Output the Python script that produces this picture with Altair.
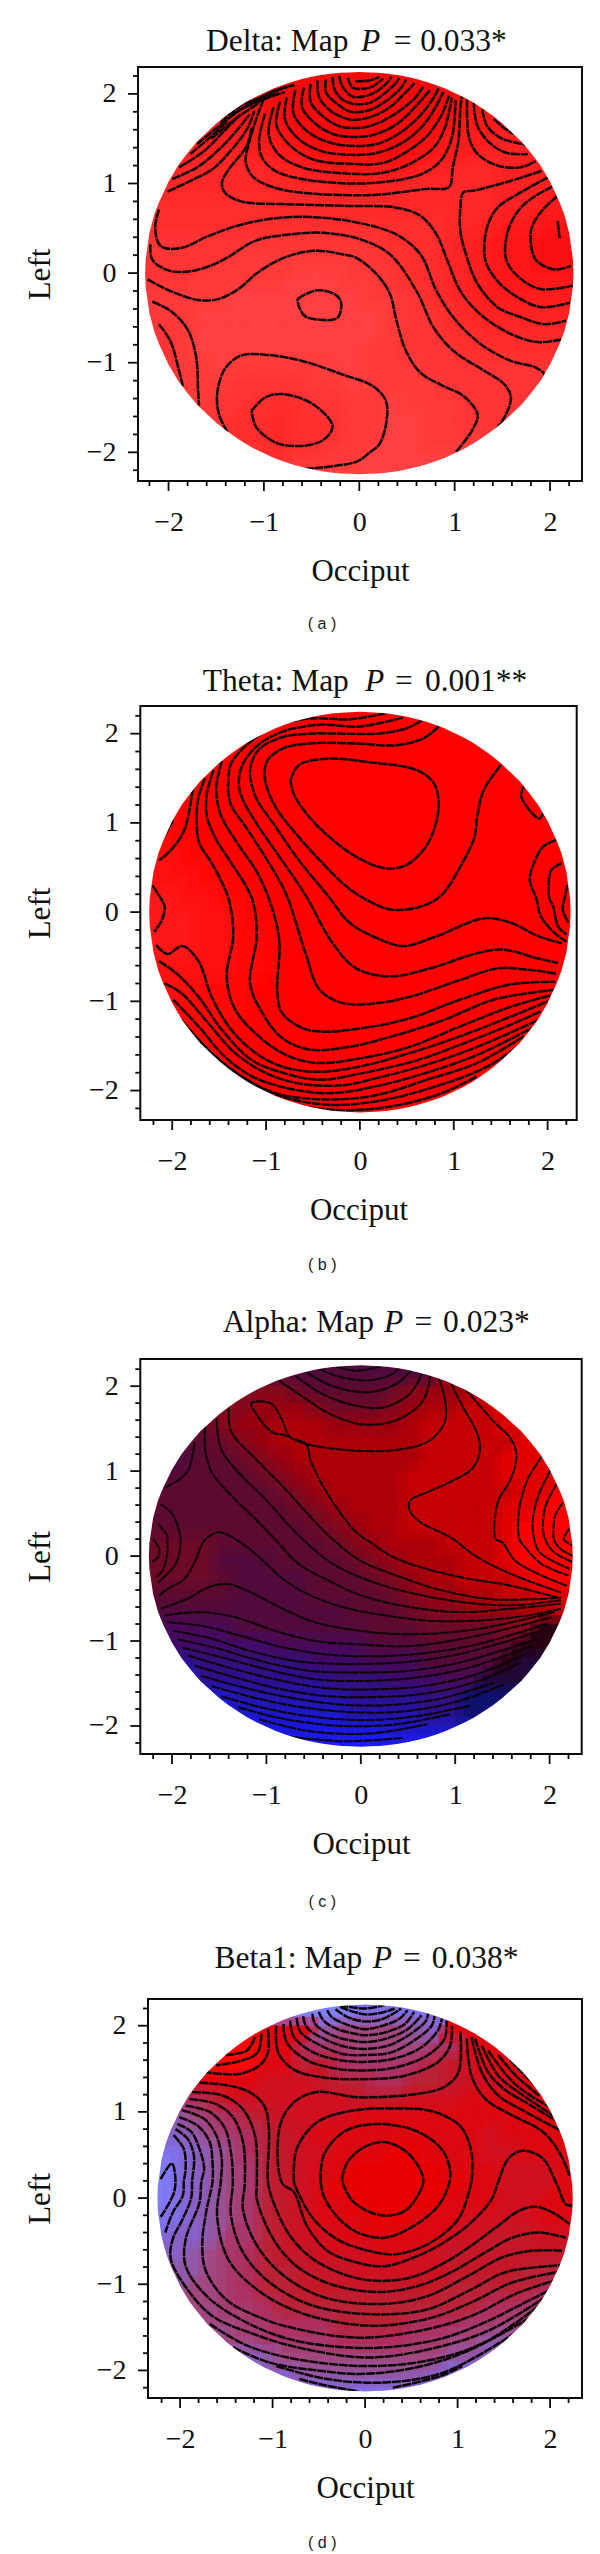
import altair as alt

SERIF = "Liberation Serif"
SANS = "Liberation Sans"
TICKS = [-2.2, -2.0, -1.8, -1.6, -1.4, -1.2, -1.0, -0.8, -0.6, -0.4, -0.2, 0.0,
         0.2, 0.4, 0.6, 0.8, 1.0, 1.2, 1.4, 1.6, 1.8, 2.0, 2.2]
MAJOR = [-2.0, -1.0, 0.0, 1.0, 2.0]
MINOR = [-2.2, -1.8, -1.6, -1.4, -1.2, -0.8, -0.6, -0.4, -0.2, 0.2, 0.4, 0.6, 0.8, 1.2, 1.4, 1.6, 1.8, 2.2]
GRID_X = TICKS
GRID_Y = list(reversed(TICKS))

# half of the disk outline: x and the height of the edge
EDGE_X = [2.245, 2.24, 2.2, 2.15, 2.1, 2.0, 1.9, 1.8, 1.7, 1.6, 1.5, 1.4, 1.3, 1.2, 1.1, 1.0, 0.9, 0.8, 0.7, 0.6, 0.5, 0.4, 0.3, 0.2, 0.1, 0.0]
EDGE_Y = [0.0, 0.15, 0.45, 0.65, 0.79, 1.02, 1.2, 1.34, 1.47, 1.57, 1.67, 1.755, 1.83, 1.9, 1.96, 2.01, 2.06, 2.1, 2.135, 2.165, 2.19, 2.21, 2.225, 2.235, 2.24, 2.245]

# ---------- colour read-offs: one character per grid cell ----------
DELTA_PALETTE = {"0": "#ff4040", "1": "#ff3a3a", "2": "#ff3434", "3": "#ff2e2e", "4": "#ff2828",
                 "5": "#ff2222", "6": "#ff1c1c", "7": "#ff1616", "8": "#f81010", "9": "#ee0c0c"}
DELTA_CELLS = [
    "99999999999999999999999",
    "77777779999999999777777",
    "66666778999999998776666",
    "55556667899999987665555",
    "55555566788889876655555",
    "44444445567777655445555",
    "44444444445555444445555",
    "33333334444444444445566",
    "33333333333333334456677",
    "22222222222223334567788",
    "22222111111122334567788",
    "22211111000112334567777",
    "11111000000011234566666",
    "11100000000001223455555",
    "22100000000001223344444",
    "22100000000011222333333",
    "33110111110011122222222",
    "33111222211011112222222",
    "33112233322110111222222",
    "33112334332110011222222",
    "33112334332110011111111",
    "11111223221100000011111",
    "00000000000000000000000",
]
THETA_PALETTE = {"0": "#ff0000", "1": "#ff0808", "2": "#ff1010", "3": "#ff1818"}
THETA_CELLS = [
    "00000000000000000000000",
    "00000000000000000000000",
    "00000000000000000000000",
    "00000000000000000000000",
    "00000000000000000000000",
    "00000000000000000000000",
    "11000000000000000000000",
    "11100000000000000000000",
    "22110000000000000000000",
    "22211000000000000000000",
    "33221100000000000000000",
    "33322100000000000000000",
    "33322110000000000000000",
    "33322110000000000000000",
    "22222110000000000000000",
    "22211100000000000000000",
    "11111100000000000000000",
    "11111000000000000000000",
    "11110000000000000000000",
    "11100000000000000000000",
    "11000000000000000000000",
    "00000000000000000000000",
    "00000000000000000000000",
]
ALPHA_PALETTE = {"a": "#ff0000", "b": "#e00000", "c": "#c40004", "d": "#ac0008", "e": "#980010",
                 "f": "#820a1c", "g": "#6c0a28", "h": "#5c0a30", "i": "#520a3c", "j": "#480a58",
                 "k": "#400a68", "l": "#34107c", "m": "#2c1090", "n": "#2414a8", "o": "#1c18c8",
                 "p": "#1818e0", "q": "#1c1cff", "r": "#280014", "s": "#200838", "t": "#101070"}
ALPHA_CELLS = [
    "iiiiiiiiiiiiiiiiiiiiiii",
    "ffffffffghhhhgfeedddddd",
    "ffffffeeefgggfeddccbbbb",
    "ggggfeedddeeeedccccbbbb",
    "hhhhgfeddddddddcccccbbb",
    "iiihhgfedddddddccccbbbb",
    "iihhhhgfedddddcccccbbba",
    "hhhhhhhgfeddddccccccbba",
    "hhhhhhhhgfedddcccccbbaa",
    "hhhhhhhhhgfeddcccccbaaa",
    "gggghhhhhhgfedddcccbaaa",
    "ggggiiihhhhgfedddccbaaa",
    "gggghiiiihhhgfeddcccbaa",
    "hhhhhiiiihhhhgfeeddccbb",
    "iiiiiiiiiiihhhgffeeeddc",
    "jjjjjiiiiiiihhhggggffrr",
    "kkkkkkkjjjjjiiihhhhhrrs",
    "mmmllllllkkkjjjiiiirsss",
    "ooommmmmmmlllkkkjjsssss",
    "ooooonnnnnnmmmmlltttttt",
    "pppppoooooonnnnmmtttttt",
    "qqqqqqpppppppoooooooooo",
    "qqqqqqqqqqqqqqqqqqqqqqq",
]
BETA_PALETTE = {"a": "#e80000", "b": "#dc0810", "c": "#d01020", "d": "#c41828", "e": "#ba2236",
                "f": "#b02c5c", "g": "#a8386c", "h": "#a24880", "i": "#9258a8", "j": "#8860c8",
                "k": "#8070e8", "l": "#8080ff", "m": "#ff0808", "n": "#e00810"}
BETA_CELLS = [
    "lllllllllllkkkkkkkkkkkk",
    "mmmmmmnnnihhhhijnnnnmmm",
    "mmmmmmnnfgghhhhgfnnnnmm",
    "nnnmmmnnedfgggfedcnnnmm",
    "ffnnnncccdeeffeedcccnnm",
    "ggfecccccccdddcccbbbbnn",
    "iihgfedccccbbbbbbbbbbbn",
    "jjihgfedcbbbbbbbbbcbbbn",
    "kkjihfedccbbbaabbbccbbb",
    "lkjihgedcbbaaaaabbbcccb",
    "lkjihgedcbaaaaaaabbcccb",
    "lkjihgedcbbaaaaabbbccbb",
    "kkjihgedcbbbaabbbccccbb",
    "kjjiggedccbbbbbbccdddcc",
    "jjihgfeddcccbbccddddddd",
    "iiihgfeedddcccccddddeee",
    "iihhgfeeddddddddeeeeeff",
    "hhhhggfeeeeeeeeeeeffggg",
    "hhhhhggfffeeeefffgghhii",
    "iiiihhggggffffgghhiijjj",
    "jjjjjjihhhhhhhhhiijkkkk",
    "kkkkkkjjiiiiiiijkkkkkkk",
    "lllllllkkkkkkkkkkllllll",
]

# ---------- contour lines: (xs, ys) ----------
DELTA_CONTOURS = [
    ([-1.0,-1.08,-1.15,-1.19,-1.11,-.88,-.53,-.11,.25,.71,.94,.98,1.04,1.06,1.08],[1.95,1.72,1.48,1.24,1.07,.95,.89,.87,.88,.94,.96,1.18,1.48,1.85,2.0]),
    ([-.99,-1.05,-1.02,-.88,-.60,-.11,.28,.64,.85,.97,1.01],[1.78,1.48,1.29,1.14,1.05,1.0,1.02,1.10,1.25,1.51,1.93]),
    ([-.90,-.95,-.85,-.60,-.11,.25,.53,.78,.90,.97],[1.85,1.55,1.33,1.18,1.11,1.12,1.22,1.40,1.63,1.96]),
    ([-.83,-.87,-.74,-.49,-.11,.25,.49,.71,.87,.94],[1.91,1.66,1.44,1.27,1.22,1.23,1.35,1.53,1.78,1.98]),
    ([-.76,-.78,-.64,-.39,-.11,.18,.46,.67,.81,.88],[1.96,1.72,1.50,1.36,1.32,1.34,1.46,1.65,1.87,2.02]),
    ([-.67,-.69,-.53,-.32,-.09,.18,.42,.64,.78,.83],[2.04,1.78,1.57,1.46,1.42,1.44,1.56,1.76,1.96,2.06]),
    ([-.58,-.60,-.44,-.27,-.09,.14,.39,.60,.74],[2.07,1.85,1.65,1.55,1.52,1.54,1.66,1.87,2.04]),
    ([-.51,-.51,-.37,-.21,-.09,.11,.35,.57,.67],[2.11,1.91,1.74,1.64,1.62,1.64,1.76,1.94,2.08]),
    ([-.44,-.42,-.30,-.18,-.09,.11,.32,.49,.58],[2.15,1.96,1.81,1.74,1.71,1.74,1.85,2.02,2.12]),
    ([-.35,-.35,-.21,-.09,.11,.28,.44,.49],[2.16,2.02,1.87,1.80,1.82,1.92,2.07,2.16]),
    ([-.28,-.26,-.18,-.07,.11,.26,.39,.42],[2.19,2.05,1.94,1.89,1.90,2.0,2.13,2.18]),
    ([-.21,-.18,-.07,.11,.25,.34],[2.2,2.09,1.97,1.99,2.08,2.19]),
    ([-.12,-.07,.11,.25],[2.18,2.07,2.07,2.17]),
    ([-.04,.11,.21],[2.14,2.15,2.19]),
    ([-2.01,-1.77,-1.54,-1.36,-1.17,-1.10],[.91,1.03,1.16,1.35,1.62,1.81]),
    ([-1.96,-1.70,-1.45,-1.27,-1.15],[1.05,1.18,1.40,1.61,1.77]),
    ([-1.89,-1.63,-1.43,-1.25],[1.18,1.36,1.57,1.77]),
    ([-1.77,-1.55,-1.38],[1.33,1.53,1.70]),
    ([-1.70,-1.45,-1.24],[1.44,1.66,1.83]),
    ([-1.45,-1.24,-1.02],[1.68,1.87,1.96]),
    ([-1.33,-1.10,-.85],[1.77,1.91,2.01]),
    ([-1.20,-.95,-.78],[1.85,1.96,2.02]),
    ([-1.55,-1.3,-1.05],[1.5,1.72,1.9]),
    ([-1.25,-1.0,-.75],[1.82,1.98,2.08]),
    ([-1.12,-.9,-.68],[1.9,2.03,2.1]),
    ([-1.13,-1.18,-1.38,-1.44,-1.41,-1.24,-.81,-.11,.39,.64,.81,.92,1.06,1.27,1.59,1.87,2.12],[1.62,1.42,1.14,1.01,.90,.80,.77,.75,.73,.64,.43,.15,-.20,-.46,-.68,-.77,-.74]),
    ([-2.10,-2.14,-2.08,-1.87,-1.59,-1.24,-.81,-.42,0,.39,.64,.81,.99,1.27,1.59,1.84,1.94,1.91],[.71,.51,.30,.28,.41,.54,.62,.62,.56,.43,.21,-.20,-.50,-.79,-.98,-1.05,-1.13,-1.20]),
    ([-2.19,-2.17,-2.0,-1.77,-1.52,-1.38,-1.09,-.74,-.39,0,.32,.60,.78,.99,1.31,1.52,1.59,1.50,1.38],[.32,.15,.03,.02,.10,.175,.36,.43,.45,.38,.21,-.20,-.61,-.87,-1.09,-1.24,-1.39,-1.65,-1.80]),
    ([-2.22,-1.98,-1.69,-1.48,-1.27,-1.06,-.78,-.46,-.18,-.04,.18,.32,.39,.49,.64,.88,1.09,1.24,1.18,1.01],[-.07,-.20,-.30,-.29,-.18,.01,.175,.25,.21,.175,-.01,-.23,-.53,-.87,-1.11,-1.26,-1.37,-1.58,-1.76,-2.0]),
    ([1.91,1.59,1.20,1.09,1.06,1.06,1.13,1.24,1.45,1.69,1.94,2.17],[1.14,1.03,.92,.90,.73,.47,.17,-.12,-.38,-.49,-.57,-.53]),
    ([1.98,1.66,1.45,1.34,1.32,1.45,1.66,1.91,2.21],[1.07,.88,.73,.51,.15,-.09,-.27,-.38,-.33]),
    ([2.03,1.73,1.57,1.54,1.70,1.91,2.24],[.97,.77,.51,.15,-.07,-.18,-.14]),
    ([2.08,1.91,1.80,1.85,2.05,2.22],[.86,.69,.47,.15,.04,.08]),
    ([2.08,2.10],[.58,.39]),
    ([1.13,1.15,1.24,1.45,1.69,1.85],[1.94,1.51,1.33,1.20,1.18,1.25]),
    ([1.20,1.24,1.38,1.55,1.77],[1.90,1.64,1.44,1.34,1.33]),
    ([1.29,1.34,1.48,1.62,1.75],[1.83,1.64,1.51,1.46,1.43]),
    ([1.41,1.52,1.62],[1.72,1.62,1.55]),
    ([-2.17,-1.98,-1.80,-1.71,-1.69,-1.68],[-.32,-.42,-.63,-.94,-1.31,-1.48]),
    ([-2.10,-1.98,-1.89,-1.85],[-.57,-.76,-1.09,-1.26]),
    ([-.65,-.53,-.42,-.25,-.19,-.23,-.42,-.57,-.63,-.65],[-.29,-.22,-.19,-.24,-.33,-.50,-.52,-.48,-.38,-.29]),
    ([-1.38,-1.47,-1.49,-1.41,-1.24,-.99,-.60,-.18,.14,.28,.28,.21,.11,-.02,-.40,-.63],[-1.78,-1.58,-1.35,-1.07,-.92,-.91,-.98,-1.13,-1.26,-1.43,-1.69,-1.91,-2.0,-2.10,-2.17,-2.19]),
    ([-1.13,-.99,-.81,-.49,-.28,-.39,-.64,-.88,-1.08,-1.13],[-1.54,-1.39,-1.35,-1.46,-1.71,-1.87,-1.93,-1.89,-1.72,-1.54]),
]
THETA_CONTOURS = [
    ([-.74,-.65,-.33,.10,.61,.79,.84,.80,.70,.50,.28,.03,-.22,-.51,-.70,-.74],[1.48,1.65,1.72,1.68,1.59,1.44,1.22,.96,.73,.53,.49,.58,.75,1.03,1.31,1.48]),
    ([.84,.68,.39,-.04,-.54,-.83,-.99,-1.01,-.90,-.65,-.40,-.18,0,.32,.64,.86,1.07,1.22,1.25,1.32,1.52],[2.08,1.95,1.87,1.89,1.89,1.83,1.69,1.48,1.18,.84,.55,.32,.18,.03,.06,.18,.51,.84,1.07,1.37,1.67]),
    ([.66,.50,.18,-.18,-.54,-.83,-1.08,-1.17,-1.11,-.90,-.65,-.33,-.11,.18,.46,.82,1.32,1.61,1.90,2.15],[2.15,2.06,2.0,2.0,2.0,1.96,1.82,1.59,1.29,.96,.58,.17,-.12,-.29,-.38,-.27,-.07,-.12,-.27,-.35]),
    ([.46,0,-.43,-.83,-1.11,-1.26,-1.29,-1.26,-1.10,-.83,-.58,-.29,-.04,.32,.75,1.25,1.52,1.90,2.11],[2.18,2.08,2.10,2.02,1.85,1.63,1.44,1.29,.99,.58,.19,-.35,-.63,-.72,-.63,-.46,-.42,-.52,-.57]),
    ([.28,-.11,-.54,-.90,-1.19,-1.37,-1.40,-1.38,-1.22,-1.01,-.79,-.58,-.43,-.18,.18,.53,1.07,1.47,1.82,2.09],[2.23,2.16,2.17,2.08,1.89,1.67,1.52,1.22,.96,.62,.21,-.46,-.87,-1.02,-1.02,-.95,-.76,-.63,-.65,-.69]),
    ([-1.47,-1.53,-1.49,-1.33,-1.11,-.97,-.86,-.88,-.83,-.61,-.40,.03,.53,1.07,1.61,2.08],[1.69,1.41,1.11,.81,.47,.15,-.31,-.91,-1.13,-1.30,-1.34,-1.30,-1.19,-.98,-.81,-.78]),
    ([-1.56,-1.63,-1.63,-1.53,-1.37,-1.15,-1.10,-1.17,-1.04,-.83,-.54,-.11,.35,.89,1.43,2.08],[1.59,1.33,1.07,.81,.55,.15,-.27,-.80,-1.13,-1.41,-1.54,-1.51,-1.39,-1.21,-.98,-.87]),
    ([-1.65,-1.72,-1.74,-1.71,-1.58,-1.40,-1.35,-1.42,-1.33,-1.08,-.79,-.47,0,.53,1.07,1.61,2.04],[1.50,1.29,.99,.77,.55,.15,-.27,-.72,-1.09,-1.39,-1.60,-1.69,-1.64,-1.51,-1.28,-1.06,-.93]),
    ([-1.78,-1.87,-2.01,-2.14],[1.39,.92,.70,.58]),
    ([-2.08,-1.99],[.86,1.03]),
    ([-2.21,-2.12,-2.08,-2.11,-2.19],[.30,.15,.06,-.09,-.22]),
    ([-2.17,-2.05,-1.89,-1.72,-1.58,-1.37,-1.11,-.83,-.47,0,.53,1.07,1.61,2.0],[-.37,-.47,-.38,-.55,-.95,-1.32,-1.58,-1.73,-1.79,-1.73,-1.58,-1.39,-1.17,-1.0]),
    ([-2.14,-1.94,-1.72,-1.47,-1.15,-.79,-.43,0,.61,1.11,1.61,1.93],[-.55,-.70,-.95,-1.32,-1.66,-1.81,-1.88,-1.81,-1.66,-1.47,-1.26,-1.11]),
    ([-2.08,-1.90,-1.62,-1.33,-1.01,-.65,-.18,.18,.71,1.25,1.90],[-.80,-.91,-1.24,-1.58,-1.80,-1.92,-1.94,-1.86,-1.71,-1.51,-1.21]),
    ([-1.99,-1.72,-1.44,-1.15,-.79,-.33,.18,.71,1.25,1.83],[-.98,-1.28,-1.62,-1.84,-1.97,-2.03,-1.95,-1.80,-1.60,-1.30]),
    ([-1.90,-1.58,-1.26,-.90,-.36,.18,.71,1.25,1.75],[-1.21,-1.58,-1.84,-2.03,-2.10,-2.05,-1.88,-1.69,-1.39]),
    ([-1.83,-1.51,-1.15,-.79,-.33,.18,.82,1.36,1.68],[-1.32,-1.65,-1.92,-2.08,-2.16,-2.12,-1.95,-1.73,-1.51]),
    ([-1.72,-1.40,-.97,-.47,.18,.82,1.25],[-1.47,-1.77,-2.05,-2.2,-2.2,-2.05,-1.84]),
    ([2.09,1.95,1.84,1.81,1.88,1.93,2.08,2.2],[.81,.73,.51,.36,.15,-.05,-.24,-.33]),
    ([2.15,2.04,2.01,2.02,2.06,2.11,2.2],[.55,.47,.25,.15,.06,-.16,-.25]),
    ([2.21,2.18,2.16,2.22],[.30,.15,.03,-.12]),
    ([1.75,1.72,1.91,1.95],[1.42,1.29,1.05,1.11]),
]
ALPHA_CONTOURS = [
    ([-.26,-.05,.24],[2.23,2.18,2.24]),
    ([-.44,-.19,.09,.31,.41],[2.20,2.10,2.07,2.13,2.21]),
    ([-.57,-.30,.09,.38,.54],[2.16,2.0,1.93,2.03,2.19]),
    ([-.69,-.41,-.05,.24,.52,.65],[2.12,1.91,1.77,1.75,1.91,2.15]),
    ([-.87,-.58,-.34,.02,.38,.66,.74],[2.07,1.85,1.68,1.55,1.60,1.83,2.15]),
    ([.82,.89,.89,.73,.45,-.05,-.58,-.80,-.94,-1.10,-1.16,-.96,-.85,-.75,-.58,-.53,-.34,-.05,.09,.34,.63,1.06,1.59,2.09],[2.11,1.85,1.58,1.36,1.26,1.24,1.32,1.42,1.46,1.66,1.80,1.80,1.64,1.40,1.32,1.12,.71,.28,.17,-.01,-.13,-.25,-.35,-.49]),
    ([.95,1.06,1.24,1.26,1.18,.98,.70,.52,.52,.63,.95,1.23,1.59,2.12],[2.05,1.80,1.42,1.22,1.03,.89,.75,.65,.53,.40,.22,-.01,-.21,-.43]),
    ([1.09,1.41,1.59,1.65,1.59,1.45,1.43,1.50,1.63,1.88,2.18],[1.99,1.58,1.38,1.19,.91,.63,.20,.16,-.05,-.21,-.35]),
    ([1.93,1.77,1.68,1.68,1.75,1.91,2.2],[1.19,.91,.56,.20,.09,-.09,-.23]),
    ([2.02,1.88,1.82,1.84,1.89,2.02,2.21],[1.03,.71,.40,.18,.05,-.05,-.15]),
    ([2.09,1.96,1.93,1.96,2.04,2.24],[.87,.60,.32,.18,.05,-.07]),
    ([2.14,2.06,2.04,2.05,2.12,2.25],[.63,.48,.24,.18,.08,0.0]),
    ([2.21,2.15,2.25],[.32,.20,.12]),
    ([-1.76,-1.82,-1.91,-2.07],[1.34,1.03,.91,.81]),
    ([-1.65,-1.65,-1.58,-1.37,-1.12,-.91,-.66,-.34,.02,.52,1.06,1.59,2.12],[1.52,1.26,.99,.71,.44,.20,-.09,-.29,-.47,-.60,-.66,-.62,-.56]),
    ([-1.53,-1.48,-1.30,-1.01,-.76,-.58,-.30,.09,.52,1.06,1.59,2.12],[1.62,1.26,.99,.67,.36,.16,-.09,-.29,-.43,-.54,-.58,-.52]),
    ([-1.40,-1.37,-1.12,-.80,-.55,-.30,-.01,.38,.88,1.41,2.12],[1.74,1.46,1.15,.79,.48,.20,-.05,-.23,-.41,-.51,-.49]),
    ([-2.12,-2.0,-1.93,-1.91,-1.96,-2.15],[.61,.50,.32,.18,-.09,-.31]),
    ([-2.15,-2.05,-2.05,-2.05,-2.10,-2.17],[.38,.24,.18,.03,-.17,-.25]),
    ([-2.2,-2.14,-2.14,-2.21],[.20,.10,0.0,-.07]),
    ([-2.14,-2.05,-1.87,-1.75,-1.66,-1.51,-1.30,-1.08,-.80,-.48,-.12,.27,.70,1.23,1.77,2.12],[-.47,-.39,-.27,-.05,.18,.28,.18,-.01,-.29,-.49,-.62,-.70,-.76,-.76,-.70,-.62]),
    ([-2.12,-1.83,-1.62,-1.41,-1.16,-.83,-.48,-.01,.52,1.23,2.05],[-.62,-.50,-.37,-.33,-.43,-.62,-.78,-.88,-.92,-.86,-.66]),
    ([-2.08,-1.72,-1.33,-.91,-.48,-.01,.52,1.23,2.02],[-.70,-.66,-.72,-.88,-1.0,-1.04,-1.06,-.94,-.72]),
    ([-2.05,-1.69,-1.27,-.80,-.34,.16,.70,1.23,1.97],[-.78,-.82,-.94,-1.08,-1.16,-1.18,-1.14,-1.04,-.80]),
    ([-1.99,-1.62,-1.16,-.66,-.12,.45,1.06,1.91],[-.88,-.96,-1.12,-1.24,-1.27,-1.25,-1.15,-.88]),
    ([-1.94,-1.54,-1.08,-.55,-.01,.52,1.06,1.86],[-.98,-1.08,-1.23,-1.35,-1.37,-1.35,-1.25,-.98]),
    ([-1.89,-1.48,-1.01,-.48,.02,.59,1.16,1.80],[-1.08,-1.19,-1.33,-1.45,-1.47,-1.43,-1.31,-1.06]),
    ([-1.83,-1.41,-.91,-.41,.09,.66,1.23,1.73],[-1.17,-1.31,-1.45,-1.55,-1.57,-1.53,-1.39,-1.16]),
    ([-1.76,-1.33,-.83,-.34,.16,.73,1.30,1.66],[-1.29,-1.43,-1.57,-1.65,-1.66,-1.61,-1.45,-1.27]),
    ([-1.69,-1.23,-.73,-.19,.34,.88,1.41],[-1.41,-1.55,-1.67,-1.75,-1.75,-1.67,-1.49]),
    ([-1.58,-1.12,-.62,-.05,.52,1.06,1.52],[-1.53,-1.67,-1.78,-1.84,-1.82,-1.70,-1.51]),
    ([-1.48,-.98,-.44,.09,.62,1.16],[-1.65,-1.80,-1.90,-1.93,-1.88,-1.76]),
    ([-1.30,-.80,-.19,.38,.95],[-1.78,-1.92,-2.0,-1.98,-1.86]),
    ([-1.08,-.55,.09,.70],[-1.92,-2.06,-2.09,-1.98]),
    ([-.80,-.19,.45],[-2.12,-2.18,-2.14]),
]
BETA_CONTOURS = [
    ([-.25,-.19,-.01,.21,.43,.57,.63,.59,.43,.17,-.12,-.23,-.25],[.22,.42,.59,.65,.55,.38,.20,.07,-.15,-.20,-.05,.14,.22]),
    ([-.48,-.45,-.23,.13,.57,.84,.92,.90,.79,.53,.21,-.08,-.30,-.45,-.48],[.19,.49,.77,.86,.77,.55,.30,.14,-.09,-.32,-.46,-.40,-.22,.03,.19]),
    ([-.77,-.74,-.52,-.16,.28,.75,1.04,1.15,1.15,1.13,1.01,.72,.35,.03,-.30,-.56,-.74,-.77],[.19,.57,.88,1.01,1.04,1.0,.82,.53,.19,.10,-.24,-.51,-.65,-.61,-.48,-.24,.10,.19]),
    ([2.25,2.17,2.08,1.92,1.70,1.55,1.44,1.37,1.15,.86,.57,.21,-.08,-.41,-.63,-.77,-.90,-.92,-.77,-.52,-.08,.57,.86,1.01,1.03],[-.09,-.07,.14,.46,.55,.46,.19,-.01,-.28,-.51,-.67,-.79,-.75,-.61,-.32,.07,.18,.84,1.11,1.23,1.17,1.21,1.29,1.46,1.93]),
    ([-.96,-.94,-.77,-.45,-.01,.43,.79,.92,.94],[2.0,1.69,1.49,1.40,1.38,1.42,1.58,1.77,2.0]),
    ([-.88,-.85,-.63,-.30,-.01,.35,.68,.86,.88],[2.02,1.81,1.60,1.50,1.48,1.52,1.66,1.85,2.06]),
    ([-.81,-.77,-.56,-.27,-.01,.32,.61,.79,.83],[2.06,1.87,1.69,1.60,1.58,1.62,1.75,1.95,2.08]),
    ([-.74,-.70,-.48,-.23,-.01,.28,.53,.72,.75],[2.09,1.93,1.77,1.67,1.66,1.69,1.83,2.0,2.11]),
    ([-.67,-.63,-.41,-.19,-.01,.25,.50,.66,.68],[2.11,1.98,1.83,1.75,1.73,1.77,1.91,2.06,2.14]),
    ([-.57,-.54,-.36,-.16,-.01,.23,.46,.61],[2.14,2.02,1.89,1.83,1.81,1.85,1.96,2.12]),
    ([-.50,-.45,-.30,-.12,-.01,.21,.43,.53],[2.16,2.06,1.96,1.91,1.89,1.92,2.02,2.16]),
    ([-.41,-.36,-.19,-.01,.19,.37,.46],[2.18,2.10,2.01,1.96,2.0,2.08,2.18]),
    ([-.32,-.19,-.01,.17,.32,.39],[2.19,2.10,2.05,2.07,2.15,2.20]),
    ([-.27,-.12,.03,.21,.32],[2.22,2.16,2.13,2.16,2.2]),
    ([-.28,-.01,.21],[2.24,2.2,2.24]),
    ([-1.05,-1.05,-1.14,-1.36,-1.72],[1.96,1.69,1.54,1.44,1.46]),
    ([-1.12,-1.16,-1.32,-1.61],[1.91,1.69,1.60,1.54]),
    ([-1.19,-1.28,-1.52],[1.87,1.71,1.66]),
    ([-1.79,-1.50,-1.25,-1.09,-1.04,-1.05,-.99,-.81,-.56,-.19,.13,.50,.86,1.15,1.44,1.66,1.84,2.03,2.21],[1.34,1.31,1.23,1.07,.80,.19,-.05,-.44,-.71,-.90,-.96,-.92,-.75,-.55,-.32,-.15,-.10,-.17,-.30]),
    ([-1.87,-1.54,-1.32,-1.19,-1.17,-1.17,-.99,-.74,-.37,.13,.57,.93,1.30,1.59,1.88,2.17],[1.23,1.19,1.03,.72,.19,-.01,-.48,-.79,-1.0,-1.09,-1.02,-.86,-.63,-.46,-.40,-.46]),
    ([-1.90,-1.61,-1.43,-1.32,-1.30,-1.32,-1.17,-.88,-.45,.13,.64,1.12,1.48,1.81,2.13],[1.15,1.09,.94,.65,.19,-.13,-.55,-.90,-1.15,-1.23,-1.15,-.90,-.69,-.61,-.61]),
    ([-1.94,-1.68,-1.52,-1.45,-1.43,-1.45,-1.32,-1.03,-.56,.13,.68,1.15,1.52,2.12],[1.07,1.0,.82,.53,.19,-.20,-.63,-.98,-1.25,-1.35,-1.29,-1.06,-.86,-.78]),
    ([-1.98,-1.74,-1.61,-1.55,-1.56,-1.60,-1.48,-1.17,-.70,.03,.68,1.15,1.59,2.08],[1.02,.92,.73,.46,.19,-.20,-.71,-1.06,-1.33,-1.48,-1.40,-1.21,-.98,-.86]),
    ([-2.01,-1.81,-1.68,-1.65,-1.65,-1.72,-1.76,-1.72,-1.50,-1.15,-.81,-.08,.68,1.19,1.63,2.04],[.94,.84,.65,.42,.19,-.17,-.55,-.85,-1.18,-1.38,-1.50,-1.62,-1.52,-1.35,-1.11,-.96]),
    ([-2.03,-1.88,-1.79,-1.74,-1.77,-1.79,-1.94,-1.94,-1.72,-1.36,-.81,.03,.79,1.30,1.66,2.01],[.86,.77,.57,.34,.19,-.05,-.48,-.79,-1.13,-1.40,-1.64,-1.74,-1.64,-1.44,-1.25,-1.06]),
    ([-2.05,-1.92,-1.85,-1.87,-1.88,-1.97,-2.08,-2.10,-1.92,-1.65,-1.25,-.74,.06,.86,1.37,1.95],[.80,.69,.49,.19,0.0,-.24,-.48,-.71,-1.06,-1.37,-1.56,-1.73,-1.85,-1.71,-1.52,-1.15]),
    ([-2.07,-1.96,-1.94,-1.96,-1.97,-2.08,-2.16],[.73,.57,.34,.19,.03,-.17,-.40]),
    ([-2.21,-2.09,-2.05,-2.07,-2.21],[.22,.40,.22,.05,-.22]),
    ([-1.68,-1.28,-.74,.06,.75,1.30,1.88],[-1.46,-1.71,-1.87,-1.95,-1.87,-1.67,-1.25]),
    ([-1.43,-1.03,-.52,-.01,.57,1.12,1.81],[-1.73,-1.91,-2.0,-2.04,-1.96,-1.77,-1.37]),
    ([-.96,-.41,.21,.86,1.66],[-1.95,-2.10,-2.14,-2.02,-1.54]),
    ([-.71,-.4,-.08],[-2.10,-2.18,-2.24]),
    ([.3,.8,1.05],[-2.2,-2.07,-1.95]),
    ([1.10,1.15,1.30,1.59,1.92,2.10,2.21],[1.85,1.42,1.15,.96,.77,.53,.26]),
    ([1.15,1.26,1.44,1.70,2.12],[1.87,1.46,1.19,1.02,.78]),
    ([1.19,1.33,1.52,1.77,2.12],[1.85,1.46,1.25,1.09,.86]),
    ([1.26,1.44,1.63,2.06],[1.77,1.42,1.25,.94]),
    ([1.33,1.55,1.73,1.99],[1.71,1.40,1.23,1.06]),
    ([1.44,1.63,1.88],[1.66,1.42,1.19]),
    ([1.57,1.77,1.92],[1.60,1.38,1.23]),
]

# title pieces
TITLE_DELTA = ["Delta: Map", "P", "=", "0.033*"]
TITLE_THETA = ["Theta: Map", "P", "=", "0.001**"]
TITLE_ALPHA = ["Alpha: Map", "P", "=", "0.023*"]
TITLE_BETA = ["Beta1: Map", "P", "=", "0.038*"]

GROUP_W = 445
PANELS = [
    dict(title=TITLE_DELTA, off=0, px=[67.9, 222.9, 255.7, 282.2], title_y=-25.5, cap="( a )", cap_x=184, cap_y=556.5,
         width=444, height=414, xd=[-2.32, 2.335], yd=[-2.32, 2.30], pad=30, cells=DELTA_CELLS, pal=DELTA_PALETTE,
         lines=DELTA_CONTOURS, lw=2.5),
    dict(title=TITLE_THETA, off=2.3, px=[62.5, 224.7, 254.6, 284.6], title_y=-24.5, cap="( b )", cap_x=182, cap_y=559.3,
         width=436.4, height=414, xd=[-2.34, 2.31], yd=[-2.33, 2.31], pad=32.3, cells=THETA_CELLS, pal=THETA_PALETTE,
         lines=THETA_CONTOURS, lw=2.5),
    dict(title=TITLE_ALPHA, off=2.3, px=[82.4, 243.7, 274.2, 302.8], title_y=-36, cap="( c )", cap_x=182, cap_y=542.9,
         width=441.4, height=395, xd=[-2.336, 2.34], yd=[-2.33, 2.32], pad=32.3, cells=ALPHA_CELLS, pal=ALPHA_PALETTE,
         lines=ALPHA_CONTOURS, lw=2.0),
    dict(title=TITLE_BETA, off=10, px=[66.4, 224.8, 255, 283.8], title_y=-39.6, cap="( d )", cap_x=174.3, cap_y=544.1,
         width=434, height=399, xd=[-2.347, 2.345], yd=[-2.32, 2.31], pad=40, cells=BETA_CELLS, pal=BETA_PALETTE,
         lines=BETA_CONTOURS, lw=2.5),
]


def axis(title, orient_pad, label_pad, offset=0):
    return alt.Axis(
        title=title, values=TICKS, format=".0f", domain=False, grid=False, offset=offset,
        labelExpr="abs(datum.value-round(datum.value))<0.01 ? datum.label : ''",
        labelFont=SERIF, labelFontSize=28, labelColor="#111", labelPadding=label_pad, labelOverlap=False,
        labelFlush=False, tickOpacity=0, tickSize=10, titleFontWeight="normal",
        titleFont=SERIF, titleFontSize=31, titleColor="#111", titlePadding=orient_pad,
    )


def panel(p):
    half = 0.105
    off = p["off"]
    h = p["height"]
    lo_x, hi_x = p["xd"]
    lo_y, hi_y = p["yd"]
    base, soft = [], []
    for row, y in zip(p["cells"], GRID_Y):
        for ch, x in zip(row, GRID_X):
            nx, ny = max(abs(x) - half, 0), max(abs(y) - half, 0)
            if (nx * nx + ny * ny) ** 0.5 > 2.27:
                continue
            base.append(dict(x0=x - half, x1=x + half, y0=y - half, y1=y + half, v=ch))
            soft.append(dict(x0=max(x - half - 0.1, lo_x + 0.02), x1=max(x + half - 0.1, lo_x + 0.02),
                             y0=max(y - half - 0.1, lo_y + 0.02), y1=max(y + half - 0.1, lo_y + 0.02), v=ch))
    xs = alt.Scale(domain=p["xd"], nice=False, zero=False, range=[off, off + p["width"]])
    ys = alt.Scale(domain=p["yd"], nice=False, zero=False)
    ax = axis("Occiput", 20, 17)
    ay = axis("Left", p["pad"], 12, -off)
    keys = list(p["pal"].keys())
    col = alt.Color("v:N", legend=None, scale=alt.Scale(domain=keys, range=[p["pal"][k] for k in keys]))
    cells = alt.Chart(alt.Data(values=base)).mark_rect(strokeWidth=0).encode(
        x=alt.X("x0:Q", scale=xs, axis=ax), x2="x1:Q",
        y=alt.Y("y0:Q", scale=ys, axis=ay), y2="y1:Q", color=col)
    cells2 = alt.Chart(alt.Data(values=soft)).mark_rect(strokeWidth=0, opacity=0.5).encode(
        x=alt.X("x0:Q", scale=xs, axis=ax), x2="x1:Q",
        y=alt.Y("y0:Q", scale=ys, axis=ay), y2="y1:Q", color=col)
    pts = []
    for i, (lx, ly) in enumerate(p["lines"]):
        for j, (a, b) in enumerate(zip(lx, ly)):
            pts.append(dict(x=a, y=b, line=i, k=j))
    contour = alt.Chart(alt.Data(values=pts)).mark_line(
        color="#0c0404", strokeWidth=p["lw"], interpolate="catmull-rom", strokeDash=[9, 0.8], clip=True
    ).encode(x=alt.X("x:Q", scale=xs, axis=ax), y=alt.Y("y:Q", scale=ys, axis=ay),
             detail="line:N", order="k:Q")
    # white outside the disk
    ex = [-a for a in EDGE_X] + EDGE_X[-2::-1]
    ey = EDGE_Y + EDGE_Y[-2::-1]
    xrow = [lo_x - 0.03] + ex + [hi_x + 0.03]
    yrow = [0.0] + ey + [0.0]
    tops = [dict(x=a, t=b, b=hi_y + 0.03, c=-b, d=lo_y - 0.03) for a, b in zip(xrow, yrow)]
    top = alt.Chart(alt.Data(values=tops)).mark_area(color="white", opacity=1, interpolate="linear").encode(
        x=alt.X("x:Q", scale=xs, axis=ax), y=alt.Y("t:Q", scale=ys, axis=ay), y2="b:Q")
    bot = alt.Chart(alt.Data(values=tops)).mark_area(color="white", opacity=1, interpolate="linear").encode(
        x=alt.X("x:Q", scale=xs, axis=ax), y=alt.Y("c:Q", scale=ys, axis=ay), y2="d:Q")
    frame = alt.Chart(alt.Data(values=[dict(a=lo_x, b=hi_x, c=lo_y, d=hi_y)])).mark_rect(
        fillOpacity=0, stroke="#0a0a0a", strokeWidth=2
    ).encode(x=alt.X("a:Q", scale=xs, axis=ax), x2="b:Q", y=alt.Y("c:Q", scale=ys, axis=ay), y2="d:Q")
    layers = [cells, cells2, contour, top, bot, frame]
    for vals, size in ((MAJOR, 10), (MINOR, 5)):
        tick_data = alt.Data(values=[dict(v=v) for v in vals])
        layers.append(alt.Chart(tick_data).mark_rule(color="#0a0a0a", strokeWidth=1.8).encode(
            x=alt.X("v:Q", scale=xs, axis=ax), y=alt.value(h), y2=alt.value(h + size)))
        layers.append(alt.Chart(tick_data).mark_rule(color="#0a0a0a", strokeWidth=1.8).encode(
            y=alt.Y("v:Q", scale=ys, axis=ay), x=alt.value(off), x2=alt.value(off - size)))
    blank = alt.Data(values=[{}])
    for txt, x in zip(p["title"], p["px"]):
        layers.append(alt.Chart(blank).mark_text(
            text=txt, align="left", baseline="middle", font=SERIF, fontSize=31.5, color="#111",
            fontStyle="italic" if txt == "P" else "normal"
        ).encode(x=alt.value(x + off), y=alt.value(p["title_y"])))
    layers.append(alt.Chart(blank).mark_text(
        text=p["cap"], align="center", baseline="middle", font=SANS, fontSize=16, color="#222"
    ).encode(x=alt.value(p["cap_x"] + off), y=alt.value(p["cap_y"])))
    return alt.layer(*layers).properties(width=GROUP_W, height=h)


chart = alt.concat(*[panel(p) for p in PANELS], columns=1, spacing=33, bounds="full").properties(
    padding={"left": 16, "top": 17, "right": 0, "bottom": 0}
).resolve_scale(color="independent").configure_view(stroke=None)

chart.save("out.html", embed_options={"renderer": "svg", "actions": False})
